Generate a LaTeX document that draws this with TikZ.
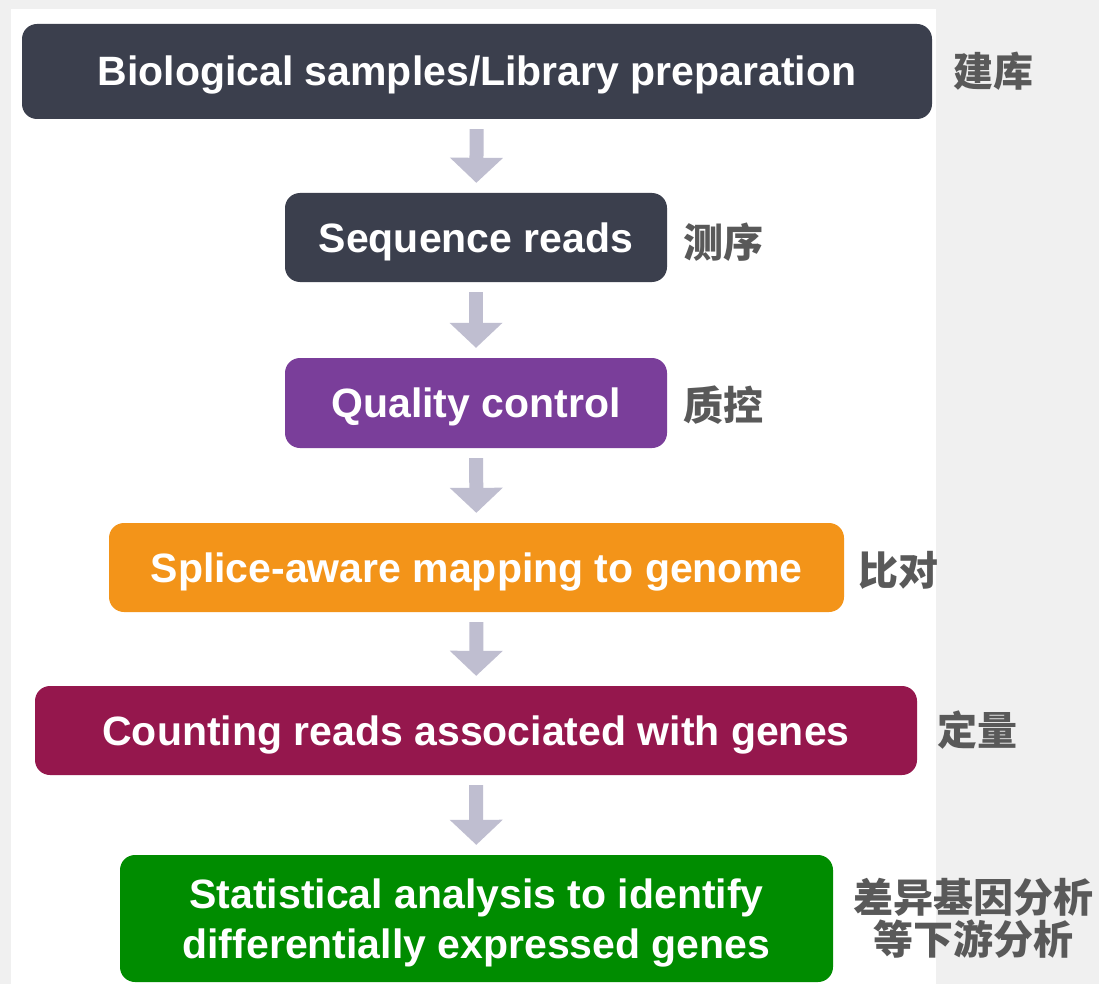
\documentclass[tikz,border=0pt]{standalone}
\usepackage{fontspec}
\usepackage{tikz}
\usetikzlibrary{positioning,arrows.meta}
\setmainfont{Liberation Sans}
\newfontfamily\cjk{Noto Sans CJK SC}
\definecolor{slatedark}{RGB}{59, 63, 77}
\definecolor{qcpurple}{RGB}{122, 62, 154}
\definecolor{maporange}{RGB}{243, 148, 25}
\definecolor{countmaroon}{RGB}{149, 23, 77}
\definecolor{degreen}{RGB}{0, 140, 0}
\definecolor{arrowgray}{RGB}{191, 190, 208}
\definecolor{labelgray}{RGB}{89, 89, 89}
\definecolor{pagegray}{RGB}{240, 240, 240}

\begin{document}
\begin{tikzpicture}[x=1pt, y=-1pt,
    stagebox/.style={rounded corners=15pt, text=white, inner sep=0pt, minimum height=89pt,
        font=\fontsize{41}{50}\selectfont\bfseries},
    oneline/.style={stagebox, text height=29pt, text depth=0pt},
    tag/.style={inner sep=0pt, text=labelgray, align=center,
        font=\fontsize{40}{42}\selectfont\cjk\bfseries},
    flow/.style={arrowgray, line width=14pt, shorten <=10pt, shorten >=10pt,
        -{Triangle[width=53pt, length=25pt, line width=0pt]}}]
  \fill[pagegray] (0,0) rectangle (1099,984);
  \fill[white] (11,9) rectangle (936,984);

  \node[oneline, fill=slatedark, minimum width=910pt, minimum height=95pt] (bio) at (477,71.5) {Biological samples/Library preparation};
  \node[oneline, fill=slatedark, minimum width=382pt] (seq) at (476,237.5) {Sequence reads};
  \node[oneline, fill=qcpurple, minimum width=382pt, minimum height=90pt] (qc) at (476,403) {Quality control};
  \node[oneline, fill=maporange, minimum width=735pt] (map) at (476.5,567.5) {Splice-aware mapping to genome};
  \node[oneline, fill=countmaroon, minimum width=882pt] (count) at (476,730.5) {Counting reads associated with genes};
  \node[stagebox, fill=degreen, minimum width=713pt, minimum height=127pt, align=center, text depth=0pt] (stat) at (476.5,918.5) {Statistical analysis to identify\\differentially expressed genes};

  \node[tag, right=21pt of bio] (biotag) {建库};
  \node[tag, right=16pt of seq, yshift=-5pt] (seqtag) {测序};
  \node[tag, right=16pt of qc, yshift=-2pt] (qctag) {质控};
  \node[tag, right=14pt of map, yshift=-3pt] (maptag) {比对};
  \node[tag, right=20pt of count] (counttag) {定量};
  \node[tag, right=20pt of stat] (stattag) {差异基因分析\\等下游分析};

  \draw[flow] (bio) -- (seq);
  \draw[flow] (seq) -- (qc);
  \draw[flow] (qc) -- (map);
  \draw[flow] (map) -- (count);
  \draw[flow] (count) -- (stat);
\end{tikzpicture}
\end{document}
